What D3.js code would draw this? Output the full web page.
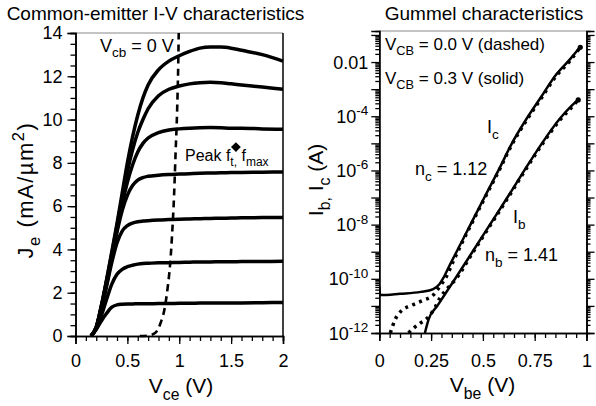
<!DOCTYPE html>
<html>
<head>
<meta charset="utf-8">
<script src="https://cdn.jsdelivr.net/npm/d3@7"></script>
<style>
body{margin:0;background:#fff;}
svg{font-family:"Liberation Sans",Arial,sans-serif;white-space:pre;}
</style>
</head>
<body>
<svg id="chart" width="596" height="406"></svg>
<script>
//left panel data: Je (mA/um2) vs Vce (V), one array per base drive
var vce = [0.15,0.2,0.25,0.3,0.35,0.4,0.45,0.5,0.55,0.6,0.65,0.7,0.8,0.9,1.0,1.1,1.2,1.3,1.4,1.5,1.6,1.8,2.0];
var je1 = [0,0.3,0.7,1.05,1.33,1.44,1.47,1.48,1.48,1.49,1.49,1.49,1.5,1.5,1.51,1.51,1.52,1.52,1.52,1.53,1.53,1.54,1.55];
var je2 = [0,0.35,0.95,1.7,2.4,2.85,3.08,3.2,3.27,3.32,3.35,3.36,3.38,3.39,3.4,3.41,3.42,3.42,3.43,3.43,3.44,3.44,3.45];
var je3 = [0,0.4,1.2,2.3,3.4,4.3,4.85,5.1,5.22,5.28,5.31,5.33,5.36,5.38,5.4,5.41,5.42,5.43,5.44,5.45,5.46,5.47,5.48];
var je4 = [0,0.4,1.3,2.4,3.6,4.8,5.8,6.5,6.95,7.2,7.32,7.38,7.43,7.46,7.48,7.5,7.52,7.53,7.54,7.55,7.56,7.57,7.58];
var je5 = [0,0.4,1.4,2.5,3.7,4.9,6.1,7.1,7.9,8.5,8.9,9.15,9.4,9.52,9.57,9.6,9.62,9.63,9.62,9.6,9.6,9.57,9.55];
var je6 = [0,0.4,1.4,2.6,3.8,5.1,6.4,7.6,8.6,9.4,10.0,10.5,11.1,11.4,11.55,11.65,11.7,11.72,11.7,11.65,11.6,11.5,11.4];
var je7 = [0,0.4,1.4,2.6,3.9,5.2,6.6,8.0,9.2,10.2,11.0,11.6,12.3,12.7,12.95,13.15,13.3,13.35,13.35,13.3,13.2,13.0,12.7];
var jeCurves = [je1,je2,je3,je4,je5,je6,je7];

//Vcb = 0 locus (dashed)
var locusV = [0.62,0.7,0.77,0.82,0.86,0.89,0.91,0.93,0.95,0.965,0.98,0.99,0.995];
var locusJ = [0,0.02,0.15,0.6,1.3,2.3,3.2,4.6,6.5,8.5,10.5,12.5,14];
var peakPoint = [1.546, 8.73];

//right panel data: Gummel, currents in A
var vbeIc = [0,0.005,0.1,0.2,0.26,0.29,0.31,0.34,0.373,0.44,0.507,0.575,0.64,0.71,0.78,0.85,0.92,0.975];
var icSolid = [5.0e-11,2.5e-11,2.8e-11,3.3e-11,4.2e-11,6.3e-11,1.1e-10,3.2e-10,1e-9,1e-8,1e-7,1e-6,1e-5,7.9e-5,5e-4,3.2e-3,1.26e-2,4e-2];
var vbeIb = [0.22,0.238,0.28,0.366,0.45,0.534,0.618,0.70,0.785,0.87,0.93,0.966];
var ibSolid = [1e-12,3.2e-12,1e-11,1e-10,1e-9,1e-8,1e-7,1e-6,1e-5,7.9e-5,2.5e-4,4.5e-4];
var vbeIcD = [0.053,0.077,0.11,0.15,0.21,0.26,0.29,0.325,0.36,0.44,0.507,0.575,0.64,0.71,0.78,0.85,0.92,0.97];
var icDash = [1e-12,3.2e-12,7e-12,1e-11,1.6e-11,2.5e-11,5e-11,1.26e-10,5e-10,9e-9,9e-8,9e-7,9e-6,7e-5,4.4e-4,2.8e-3,1.1e-2,3.5e-2];
var vbeIbD = [0.141,0.165,0.197,0.22,0.245,0.27,0.293,0.33,0.366,0.45,0.534,0.618,0.70,0.785,0.87,0.93,0.96];
var ibDash = [1e-12,1.5e-12,2.3e-12,3e-12,4.6e-12,9e-12,2e-11,4.5e-11,9e-11,9e-10,9e-9,9e-8,9e-7,9e-6,7e-5,2.2e-4,4e-4];

//tick values
var xTicksL = [0,0.5,1,1.5,2];
var yTicksL = [0,2,4,6,8,10,12,14];
var xTicksR = [0,0.25,0.5,0.75,1];
var yExpR = [-12,-11,-10,-9,-8,-7,-6,-5,-4,-3,-2,-1];
var yLabelExpR = [-12,-10,-8,-6,-4,-2];

var svg = d3.select('#chart');

//rich text with sub / superscripts
function rich(sel, x, y, parts, size, anchor){
	var t = sel.append('text')
		.attr('x',x).attr('y',y)
		.attr('font-size',size)
		.attr('text-anchor',anchor||'start');
	var cur = 0;
	parts.forEach(function(p){
		var off = p[1]=='sub' ? size*0.32 : (p[1]=='sup' ? -size*0.42 : 0);
		var ts = t.append('tspan').text(p[0]).attr('dy', off-cur);
		if(p[1]) ts.attr('font-size', size*0.75);
		cur = off;
	});
	return t;
}

function styleAxis(g, fs){
	g.attr('font-family',null).attr('font-size',fs);
	g.selectAll('.domain').attr('stroke','#000').attr('stroke-width',1.5);
	g.selectAll('.tick line').attr('stroke','#000').attr('stroke-width',1.3);
	g.selectAll('.tick text').attr('fill','#000');
}

// ---------- left panel ----------
var xL = d3.scaleLinear().domain([0,2]).range([75.5,283]);
var yL = d3.scaleLinear().domain([0,14]).range([336,33]);
var left = svg.append('g');

left.append('line').attr('x1',xL(0)).attr('x2',xL(2)).attr('y1',yL(14)).attr('y2',yL(14))
	.attr('stroke','#888').attr('stroke-width',1);
left.append('line').attr('x1',xL(2)).attr('x2',xL(2)).attr('y1',yL(14)).attr('y2',yL(0))
	.attr('stroke','#000').attr('stroke-width',1.5);

left.append('g').attr('transform','translate(0,'+yL(0)+')')
	.call(d3.axisBottom(xL).tickValues(d3.range(0,20.5,1).map(function(d){return d/10;})).tickSize(5).tickFormat(''))
	.call(styleAxis,18);
left.append('g').attr('transform','translate(0,'+yL(0)+')')
	.call(d3.axisBottom(xL).tickValues(xTicksL).tickSize(8).tickPadding(10).tickFormat(function(d){return d;}))
	.call(styleAxis,18);
left.append('g').attr('transform','translate('+xL(0)+',0)')
	.call(d3.axisLeft(yL).tickValues(d3.range(0,28.5,1).map(function(d){return d/2;})).tickSize(5).tickFormat(''))
	.call(styleAxis,18);
left.append('g').attr('transform','translate('+xL(0)+',0)')
	.call(d3.axisLeft(yL).tickValues(yTicksL).tickSize(8).tickPadding(5).tickFormat(function(d){return d;}))
	.call(styleAxis,18);

var lineL = d3.line()
	.x(function(d){ return xL(d[0]); })
	.y(function(d){ return yL(d[1]); })
	.curve(d3.curveMonotoneX);

left.selectAll('path.iv').data(jeCurves).enter()
	.append('path')
	.attr('class','iv')
	.attr('fill','none')
	.attr('stroke','#000')
	.attr('stroke-width',3.5)
	.attr('stroke-linejoin','round')
	.attr('d',function(c){ return lineL(d3.zip(vce,c)); });

left.append('path')
	.attr('fill','none')
	.attr('stroke','#000')
	.attr('stroke-width',2.6)
	.attr('stroke-dasharray','7,5')
	.attr('d',lineL(d3.zip(locusV,locusJ)));

left.append('path')
	.attr('transform','translate('+xL(peakPoint[0])+','+yL(peakPoint[1])+') rotate(45)')
	.attr('d',d3.symbol(d3.symbolSquare,48)())
	.attr('fill','#000');

rich(left,100,51.5,[['V'],['cb','sub'],[' = 0 V']],18);
rich(left,185,161,[['Peak f'],['t,','sub'],[' f'],['max','sub']],16);

rich(svg,155.5,19.5,[['Common-emitter I-V characteristics']],19,'middle');
rich(svg,181,393,[['V'],['ce','sub'],[' (V)']],21,'middle');
rich(svg.append('g').attr('transform','translate(33,190) rotate(-90)'),0,0,
	[['J'],['e','sub'],[' (mA/\u00b5m'],['2','sup'],[')']],22,'middle')
	.attr('letter-spacing',1.5);

// ---------- right panel ----------
var xR = d3.scaleLinear().domain([0,1]).range([379.3,586.5]);
var yR = d3.scaleLog().domain([1e-12,0.14]).range([333,31]);
var right = svg.append('g');

var majR = yExpR.map(function(e){ return Math.pow(10,e); });
var minR = [];
yExpR.forEach(function(e){
	for(var m=2;m<10;m++){ var v=m*Math.pow(10,e); if(v<=0.14) minR.push(v); }
});

right.append('line').attr('x1',xR(0)).attr('x2',xR(1)).attr('y1',31).attr('y2',31)
	.attr('stroke','#888').attr('stroke-width',1);

right.append('g').attr('transform','translate(0,333)')
	.call(d3.axisBottom(xR).tickValues(d3.range(0,20.5,1).map(function(d){return d/20;})).tickSize(5).tickFormat(''))
	.call(styleAxis,18);
right.append('g').attr('transform','translate(0,333)')
	.call(d3.axisBottom(xR).tickValues(xTicksR).tickSize(8).tickPadding(13).tickFormat(function(d){return d;}))
	.call(styleAxis,18);

[[xR(0),d3.axisLeft],[xR(1),d3.axisRight]].forEach(function(a){
	right.append('g').attr('transform','translate('+a[0]+',0)')
		.call(a[1](yR).tickValues(minR).tickSize(4).tickFormat(''))
		.call(styleAxis,18);
	right.append('g').attr('transform','translate('+a[0]+',0)')
		.call(a[1](yR).tickValues(majR).tickSize(8).tickFormat(''))
		.call(styleAxis,18);
});

yLabelExpR.forEach(function(e){
	var y = yR(Math.pow(10,e)) + 6.5;
	if(e==-2) rich(right,xR(0)-11,y,[['0.01']],18,'end');
	else rich(right,xR(0)-11,y,[['10'],[String(e),'sup']],18,'end');
});

var clip = right.append('clipPath').attr('id','clipR').append('rect')
	.attr('x',xR(0)).attr('y',31).attr('width',xR(1)-xR(0)).attr('height',333-31);

var lineR = d3.line()
	.x(function(d){ return xR(d[0]); })
	.y(function(d){ return yR(d[1]); })
	.curve(d3.curveMonotoneX);

var plotR = right.append('g').attr('clip-path','url(#clipR)');
[[vbeIc,icSolid],[vbeIb,ibSolid]].forEach(function(s){
	plotR.append('path')
		.attr('fill','none').attr('stroke','#000').attr('stroke-width',2.5)
		.attr('d',lineR(d3.zip(s[0],s[1])));
});
[[vbeIcD,icDash],[vbeIbD,ibDash]].forEach(function(s){
	plotR.append('path')
		.attr('fill','none').attr('stroke','#000').attr('stroke-width',3.5)
		.attr('stroke-dasharray','3,4.5')
		.attr('d',lineR(d3.zip(s[0],s[1])));
	var n = s[0].length-1;
	plotR.append('circle')
		.attr('cx',xR(s[0][n])).attr('cy',yR(s[1][n])).attr('r',2.6).attr('fill','#000');
});

rich(right,385,50,[['V'],['CB','sub'],[' = 0.0 V (dashed)']],17);
rich(right,385,84,[['V'],['CB','sub'],[' = 0.3 V (solid)']],17);
rich(right,487,133,[['I'],['c','sub']],18);
rich(right,415,175,[['n'],['c','sub'],[' = 1.12']],18);
rich(right,513,223,[['I'],['b','sub']],18);
rich(right,485,261,[['n'],['b','sub'],[' = 1.41']],18);

rich(svg,484,19.5,[['Gummel characteristics']],19,'middle');
rich(svg,482.5,392,[['V'],['be','sub'],[' (V)']],21,'middle');
rich(svg.append('g').attr('transform','translate(323,180) rotate(-90)'),0,0,
	[['I'],['b,','sub'],[' I'],['c','sub'],[' (A)']],21,'middle');
</script>
</body>
</html>
